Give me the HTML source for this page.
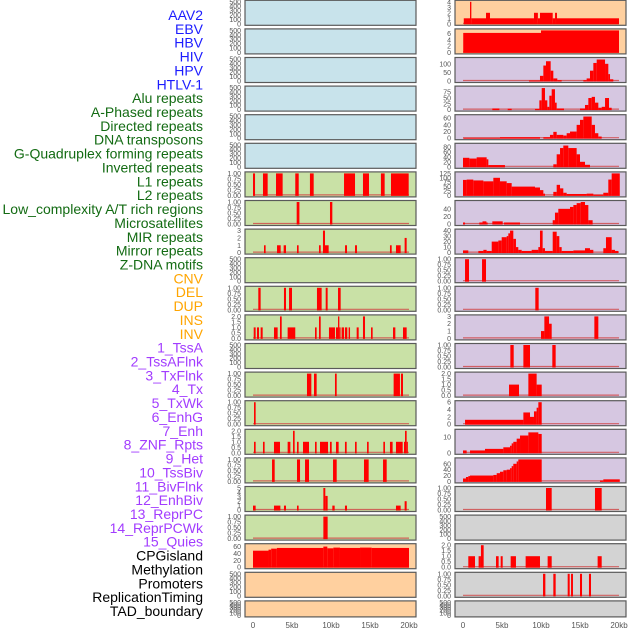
<!DOCTYPE html>
<html><head><meta charset="utf-8"><style>
html,body{margin:0;padding:0;background:#fff;}
svg{display:block;font-family:"Liberation Sans",sans-serif;}
</style></head><body>
<svg id="chart" width="630" height="630" viewBox="0 0 630 630" xmlns="http://www.w3.org/2000/svg"></svg>
<script>
const labelNames = ["AAV2","EBV","HBV","HIV","HPV","HTLV-1","Alu repeats","A-Phased repeats","Directed repeats","DNA transposons","G-Quadruplex forming repeats","Inverted repeats","L1 repeats","L2 repeats","Low_complexity A/T rich regions","Microsatellites","MIR repeats","Mirror repeats","Z-DNA motifs","CNV","DEL","DUP","INS","INV","1_TssA","2_TssAFlnk","3_TxFlnk","4_Tx","5_TxWk","6_EnhG","7_Enh","8_ZNF_Rpts","9_Het","10_TssBiv","11_BivFlnk","12_EnhBiv","13_ReprPC","14_ReprPCWk","15_Quies","CPGisland","Methylation","Promoters","ReplicationTiming","TAD_boundary"];
const labelGroups = [0,0,0,0,0,0,1,1,1,1,1,1,1,1,1,1,1,1,1,2,2,2,2,2,3,3,3,3,3,3,3,3,3,3,3,3,3,3,3,4,4,4,4,4];
const groupColors = ["#1c1cff","#136b13","#ffa500","#a23cff","#000000"];
const xTickValues = [0,5,10,15,20];
const xTickLabels = ["0","5kb","10kb","15kb","20kb"];

const T500=[0,100,200,300,400,500], T1=[0,0.25,0.5,0.75,1], T2=[0,0.5,1,1.5,2];
const leftTicks = [T500,T500,T500,T500,T500,T500,T1,T1,[0,1,2,3],T500,T1,T2,T500,T1,T1,T2,T1,[0,1,2,3,4,5],T1,[0,20,40,60],T500,T500];
const leftMax = [500,500,500,500,500,500,1,1,3,500,1,2,500,1,1,2,1,5,1,64,500,500];
const rightTicks = [[0,1,2,3,4],[0,2,4,6],[0,50,100],[0,25,50,75],[0,20,40,60],[0,20,40,60,80],[0,25,50,75,100,125],[0,20,40],[0,10,20,30,40],T1,T1,[0,1,2,3],T1,T2,[0,2,4,6],[0,10],[0,20,40,60],T1,T500,T2,T1,T500];
const rightMax = [4,7,128,95,66,88,125,58,40,1,1,3,1,2,6,14,75,1,500,2,1,500];
const leftBg = ["#c8e3eb","#c8e3eb","#c8e3eb","#c8e3eb","#c8e3eb","#c8e3eb","#c9e1a6","#c9e1a6","#c9e1a6","#c9e1a6","#c9e1a6","#c9e1a6","#c9e1a6","#c9e1a6","#c9e1a6","#c9e1a6","#c9e1a6","#c9e1a6","#c9e1a6","#ffd09f","#ffd09f","#ffd09f"];
const rightBg = ["#ffd09f","#ffd09f","#d6c7e1","#d6c7e1","#d6c7e1","#d6c7e1","#d6c7e1","#d6c7e1","#d6c7e1","#d6c7e1","#d6c7e1","#d6c7e1","#d6c7e1","#d6c7e1","#d6c7e1","#d6c7e1","#d6c7e1","#d3d3d3","#d3d3d3","#d3d3d3","#d3d3d3","#d3d3d3"];

// segments: [startKb, endKb, value]
const L6=[[0,0.26,1],[1.28,1.88,1],[2.95,3.8,1],[5.42,5.86,1],[7.3,7.78,1],[11.67,13.08,1],[14.1,14.87,1],[16.4,16.88,1],[17.69,19.96,1]];
const L7=[[5.6,5.95,1],[9.87,10.17,1]];
const L8=[[1.41,1.62,1],[3.08,3.55,1],[3.93,4.23,1],[5.64,5.85,1],[8.46,8.68,1],[8.97,9.23,3],[9.23,9.7,1],[11.8,12.05,1],[13.08,13.33,1],[17.56,17.78,1],[18.33,18.93,1],[19.44,19.7,2]];
const L10=[[0.68,0.98,1],[3.97,4.23,1],[4.62,5.0,1],[8.2,8.8,1],[9.32,9.57,1],[10.9,11.24,1]];
const L11=[[0.09,0.34,1],[0.51,0.77,1],[0.98,1.24,1],[2.69,3.16,1],[3.46,3.68,2],[4.44,5.42,1],[7.95,8.16,1],[8.46,8.68,2],[9.74,10.51,1],[10.64,10.9,1],[10.9,11.07,2],[11.07,11.15,1],[11.36,11.67,1],[11.79,12.09,1],[12.26,12.44,1],[13.29,13.55,1],[14.1,14.36,2],[15.13,15.34,1],[17.95,18.25,1],[19.23,19.7,1]];
const L13=[[6.92,7.48,1],[7.82,8.16,1],[10.51,10.73,1],[18.03,18.84,1],[18.97,19.23,1]];
const L14=[[0.13,0.34,1]];
const L15=[[0.13,0.34,1],[1.28,1.49,1],[2.69,3.46,1],[4.44,4.79,1],[5.13,5.34,2],[5.64,5.85,1],[6.41,7.18,1],[7.95,8.16,1],[8.59,9.62,1],[9.87,10.09,1],[10.64,10.98,1],[11.79,12.01,1],[13.08,13.29,1],[14.62,14.83,1],[16.71,16.92,1],[17.56,17.9,1],[18.33,19.19,1],[19.36,19.49,1],[19.49,19.7,2],[19.7,19.83,1]];
const L16=[[2.44,2.78,1],[5.64,6.03,1],[6.67,7.18,1],[10.26,10.73,1],[14.23,14.83,1],[16.67,17.14,1]];
const L17=[[0,0.34,1],[2.69,3.51,1],[3.97,4.23,1],[5.64,5.85,1],[9.02,9.27,5],[9.27,9.57,3.2],[10.17,10.47,1],[11.79,12.05,1],[18.33,18.93,1],[19.44,19.7,2]];
const L18=[[9.02,9.57,1]];
const L19=[[0,1.99,48],[1.99,2.33,51],[2.33,3.06,54],[3.06,9.02,56],[9.02,9.53,60],[9.53,10.3,55],[10.3,11.15,57],[11.15,13.72,56],[13.72,15.21,57],[15.21,20,56]];
const R0=[[0.1,0.9,1],[0.9,1.07,4],[1.07,2.95,1],[2.95,3.46,2],[3.46,9.1,1],[9.1,9.6,2],[9.6,9.87,1],[9.87,11.5,2],[11.5,11.8,1],[11.8,12.05,2],[12.05,20,1]];
const R1=[[0.03,10,6.2],[10,20,7]];
const R2=[[8.46,9.87,3],[9.87,10.3,30],[10.3,10.64,90],[10.64,11.24,115],[11.24,11.58,60],[11.58,12.09,15],[12.09,12.65,5],[15.43,15.85,5],[15.85,16.28,15],[16.28,16.71,60],[16.71,17.14,105],[17.14,18.21,125],[18.21,18.63,100],[18.63,18.85,40],[18.85,19.27,10]];
const R3=[[3.76,4.66,5],[5.73,6.24,4],[9.23,9.79,3],[9.79,10.09,40],[10.09,10.51,93],[10.51,10.81,40],[10.81,11.07,12],[11.07,11.37,60],[11.37,11.79,88],[11.79,12.01,30],[12.01,12.95,5],[15.0,15.64,5],[15.64,16.07,20],[16.07,16.5,50],[16.5,16.92,55],[16.92,17.35,30],[17.35,17.78,8],[17.78,18.21,12],[18.21,18.72,50],[18.72,19.06,8]];
const R4=[[0.04,4.74,1],[4.74,9.87,3],[10.3,11.15,3],[11.15,11.58,10],[11.58,12.01,19],[12.01,12.86,10],[12.86,13.29,8],[13.29,13.72,15],[13.72,14.57,20],[14.57,15.0,40],[15.0,15.43,55],[15.43,16.5,65],[16.5,16.92,40],[16.92,17.35,15],[17.35,17.78,5]];
const R5=[[0,0.81,36],[0.81,1.75,33],[1.75,3.03,38],[3.03,3.25,30],[3.25,5.38,7],[11.58,12.01,10],[12.01,12.44,50],[12.44,12.86,75],[12.86,13.5,85],[13.5,14.57,75],[14.57,15.0,50],[15.0,15.64,20],[15.64,16.28,8]];
const R6=[[0,0.47,88],[0.47,1.32,90],[1.32,2.61,85],[2.61,3.89,80],[3.89,4.74,100],[4.74,5.6,80],[5.6,6.24,70],[6.24,9.23,50],[9.23,9.87,45],[9.87,10.3,30],[10.3,10.51,10],[11.58,12.01,20],[12.01,12.44,60],[12.44,12.86,40],[12.86,13.29,15],[13.29,15.85,8],[15.85,16.71,10],[16.71,17.99,4],[17.99,18.63,15],[18.63,19.06,90],[19.06,20.1,125]];
const R7=[[0,0.26,4],[2.09,2.5,4],[2.5,3.0,7],[3.0,3.03,4],[3.76,5.09,7],[5.26,7.31,4],[11.5,11.79,10],[11.79,12.22,30],[12.22,13.72,40],[13.72,14.15,45],[14.15,14.57,50],[14.57,15.09,55],[15.09,15.64,58],[15.64,16.07,50],[16.07,16.62,10]];
const R8=[[0,0.68,4],[1.97,2.61,3],[2.61,3.03,5],[3.03,3.68,3],[3.68,4.53,20],[4.53,4.96,22],[4.96,5.6,28],[5.6,5.81,30],[5.81,6.03,35],[6.03,6.45,40],[6.45,6.79,25],[6.79,7.09,10],[7.09,7.52,5],[7.52,8.8,3],[8.8,9.66,5],[9.66,9.87,10],[9.87,10.21,40],[10.21,10.51,8],[10.51,11.5,3],[11.5,12.01,38],[12.01,12.35,30],[12.35,12.65,10],[12.65,14.15,3],[14.15,15.64,4],[15.64,16.28,8],[16.28,16.71,5],[17.99,18.33,8],[18.33,19.06,28],[19.06,19.49,5],[19.49,19.91,3]];
const R9=[[0.26,0.77,1],[2.44,2.95,1]];
const R10=[[9.27,9.7,1]];
const R11=[[10.0,10.43,1],[10.43,11.03,3],[11.03,11.37,2],[16.84,17.35,3]];
const R12=[[6.07,6.5,1],[7.74,8.59,1],[11.45,11.88,1]];
const R13=[[5.9,7.18,1],[8.38,9.44,2],[9.44,10.09,1]];
const R14=[[0.26,7.74,1.2],[7.74,8.59,3.2],[8.59,9.1,2],[9.1,9.44,3.5],[9.44,9.66,4.5],[9.66,10.09,6]];
const R15=[[0,0.47,1.5],[0.9,2.82,1.5],[2.82,5.17,2.5],[5.17,6.03,3.5],[6.03,6.24,4.5],[6.24,6.45,6],[6.45,6.88,7],[6.88,7.31,9],[7.31,8.38,11],[8.38,9.66,13],[9.66,10.09,12]];
const R16=[[0,0.38,10],[0.38,0.68,15],[0.68,0.9,18],[0.9,3.89,20],[3.89,4.32,22],[4.32,4.74,28],[4.74,5.17,33],[5.17,5.6,38],[5.6,6.03,40],[6.03,6.24,45],[6.24,6.45,52],[6.45,6.88,60],[6.88,7.09,68],[7.09,10.09,75],[17.56,17.99,3],[17.99,20.1,7]];
const R17=[[10.64,11.37,1],[16.92,17.78,1]];
const R19=[[0.68,1.54,1],[2.0,2.3,1],[2.3,2.65,2],[4.23,4.57,1],[4.83,5.09,1],[6.11,6.79,1],[8.03,9.87,1],[10.85,11.37,1],[17.26,17.78,1]];
const R20=[[10.26,10.56,1],[11.58,11.88,1],[13.42,13.68,1],[13.85,14.1,1],[15.0,15.26,1],[16.15,16.41,1]];
const E=[];
const leftSeries=[E,E,E,E,E,E,L6,L7,L8,E,L10,L11,E,L13,L14,L15,L16,L17,L18,L19,E,E];
const rightSeries=[R0,R1,R2,R3,R4,R5,R6,R7,R8,R9,R10,R11,R12,R13,R14,R15,R16,R17,E,R19,R20,E];

const NS="http://www.w3.org/2000/svg";
const svg=document.getElementById('chart');
function mk(tag,attrs,parent){const e=document.createElementNS(NS,tag);for(const k in attrs)e.setAttribute(k,attrs[k]);(parent||svg).appendChild(e);return e;}

// labels
const labelG=mk('g',{});


labelNames.forEach((n,i)=>{
  const y=15+i*(596/(labelNames.length-1));
  const t=mk('text',{x:203,y:y+5,'text-anchor':'end','font-size':'14',fill:groupColors[labelGroups[i]]},labelG);
  t.textContent=n;
  
  
});

const colX=[245,455];
const panelW=171;
function xScale(col,kb){return colX[col]+8+kb*7.8;}
function rowTop(i){return 0.3+i*28.6;}
function rowH(i){return i===21?16:25;}
function fmt(v,ticks){const st=ticks[1]-ticks[0];if(st===0.25)return v.toFixed(2);if(st===0.5)return v.toFixed(1);return String(v);}

function drawPanel(col,i,ticks,dmax,bg,segs){
  const py=rowTop(i),h=rowH(i),px=colX[col];
  const g=mk('g',{});
  
  
  mk('rect',{x:px,y:py,width:panelW,height:h,fill:bg,stroke:'#5a5a5a','stroke-width':1.2},g);
  const base=py+h-1.5, span=h-3;
  const yS=v=>base-v/dmax*span;
  ticks.forEach(v=>{
    const t=mk('text',{x:px-4,y:yS(v)+2.5,'text-anchor':'end','font-size':'7',fill:'#555'},g);
    t.textContent=fmt(v,ticks);
    
    
  });
  if(segs.length){
    const ln=mk('line',{x1:xScale(col,0),x2:xScale(col,20),y1:base-0.5,y2:base-0.5,stroke:'#d04545','stroke-width':1.2,opacity:0.8},g);
    
    
  }
  segs.forEach(s=>{
    const x0=xScale(col,s[0]),x1=xScale(col,s[1]),yv=Math.max(py+0.6,yS(s[2]));
    const r=mk('rect',{x:x0,y:yv,width:Math.max(1.2,x1-x0),height:base-yv+0.5,fill:'#ff0000'},g);
    
    
  });
}
for(let i=0;i<22;i++){
  drawPanel(0,i,leftTicks[i],leftMax[i],leftBg[i],leftSeries[i]);
  drawPanel(1,i,rightTicks[i],rightMax[i],rightBg[i],rightSeries[i]);
}
[0,1].forEach(col=>{
  xTickValues.forEach((v,k)=>{
    const t=mk('text',{x:xScale(col,v),y:628,'text-anchor':'middle','font-size':'8',fill:'#555'});
    t.textContent=xTickLabels[k];
    
    
  });
});
</script>
</body></html>
